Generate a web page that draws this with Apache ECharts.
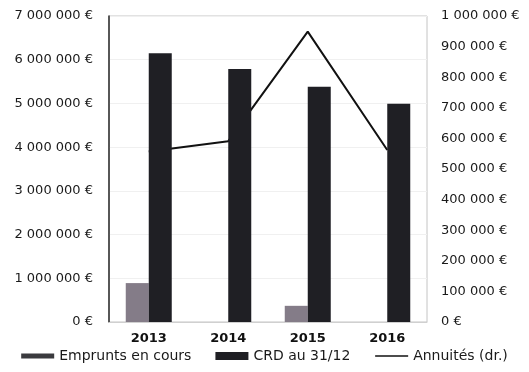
<!DOCTYPE html>
<html>
<head>
<meta charset="utf-8">
<script src="https://cdn.jsdelivr.net/npm/echarts@6/dist/echarts.min.js"></script>
<style>
    html, body { margin: 0; padding: 0; background: #fff; }
    #chart { width: 529px; height: 372px; }
</style>
</head>
<body>
<div id="chart"></div>
<script>
    var years = ['2013', '2014', '2015', '2016'];
    var emprunts = [890000, 0, 370000, 0];
    var crd = [6150000, 5790000, 5380000, 4990000];
    var annuites = [557000, 591000, 949000, 562000];

    function euro(value) {
        return String(value).replace(/\B(?=(\d{3})+(?!\d))/g, ' ') + ' €';
    }

    var chart = echarts.init(document.getElementById('chart'), null, {renderer: 'canvas'});

    chart.setOption({
        animation: false,
        textStyle: {
            fontFamily: 'DejaVu Sans'
        },
        grid: {
            left: 109,
            right: 102,
            top: 16,
            bottom: 50,
            show: true,
            borderColor: '#c4c4c4',
            borderWidth: 1
        },
        legend: {
            bottom: 4,
            left: 'center',
            itemWidth: 33,
            itemHeight: 8,
            itemGap: 24,
            textStyle: {
                fontSize: 14,
                color: '#1a1a1a'
            },
            data: [
                // thin bar icon: the two empty points keep the icon box 8px tall
                {name: 'Emprunts en cours', icon: 'path://M0,0L0,0M0,8L0,8M0,1.5L33,1.5L33,6.5L0,6.5Z', itemStyle: {color: '#3a3a3e'}},
                {name: 'CRD au 31/12', icon: 'rect'},
                {name: 'Annuités (dr.)', itemStyle: {opacity: 0}, lineStyle: {width: 1.5}}
            ]
        },
        xAxis: {
            type: 'category',
            data: years,
            axisLine: { lineStyle: { color: '#d0d0d0' } },
            axisTick: { show: false },
            axisLabel: {
                fontSize: 13,
                fontWeight: 'bold',
                color: '#111',
                margin: 10
            }
        },
        yAxis: [{
            type: 'value',
            min: 0,
            max: 7000000,
            interval: 1000000,
            axisLine: { show: true, lineStyle: { color: '#2a2a2a', width: 1.5 } },
            axisTick: { show: false },
            splitLine: { lineStyle: { color: '#f0f0f0' } },
            axisLabel: {
                fontSize: 13,
                color: '#1a1a1a',
                margin: 16,
                formatter: euro
            }
        }, {
            type: 'value',
            min: 0,
            max: 1000000,
            interval: 100000,
            axisLine: { show: false },
            axisTick: { show: false },
            splitLine: { show: false },
            axisLabel: {
                fontSize: 13,
                color: '#1a1a1a',
                margin: 14,
                formatter: euro
            }
        }],
        series: [{
            name: 'Annuités (dr.)',
            type: 'line',
            yAxisIndex: 1,
            z: 1,
            symbol: 'none',
            data: annuites,
            lineStyle: { color: '#111', width: 2 },
            itemStyle: { color: '#111' }
        }, {
            name: 'Emprunts en cours',
            type: 'bar',
            z: 3,
            barWidth: 23,
            barGap: '0%',
            data: emprunts,
            itemStyle: { color: '#847c88' }
        }, {
            name: 'CRD au 31/12',
            type: 'bar',
            z: 3,
            barWidth: 23,
            barGap: '0%',
            data: crd,
            itemStyle: { color: '#1f1f24' }
        }]
    });
</script>
</body>
</html>
